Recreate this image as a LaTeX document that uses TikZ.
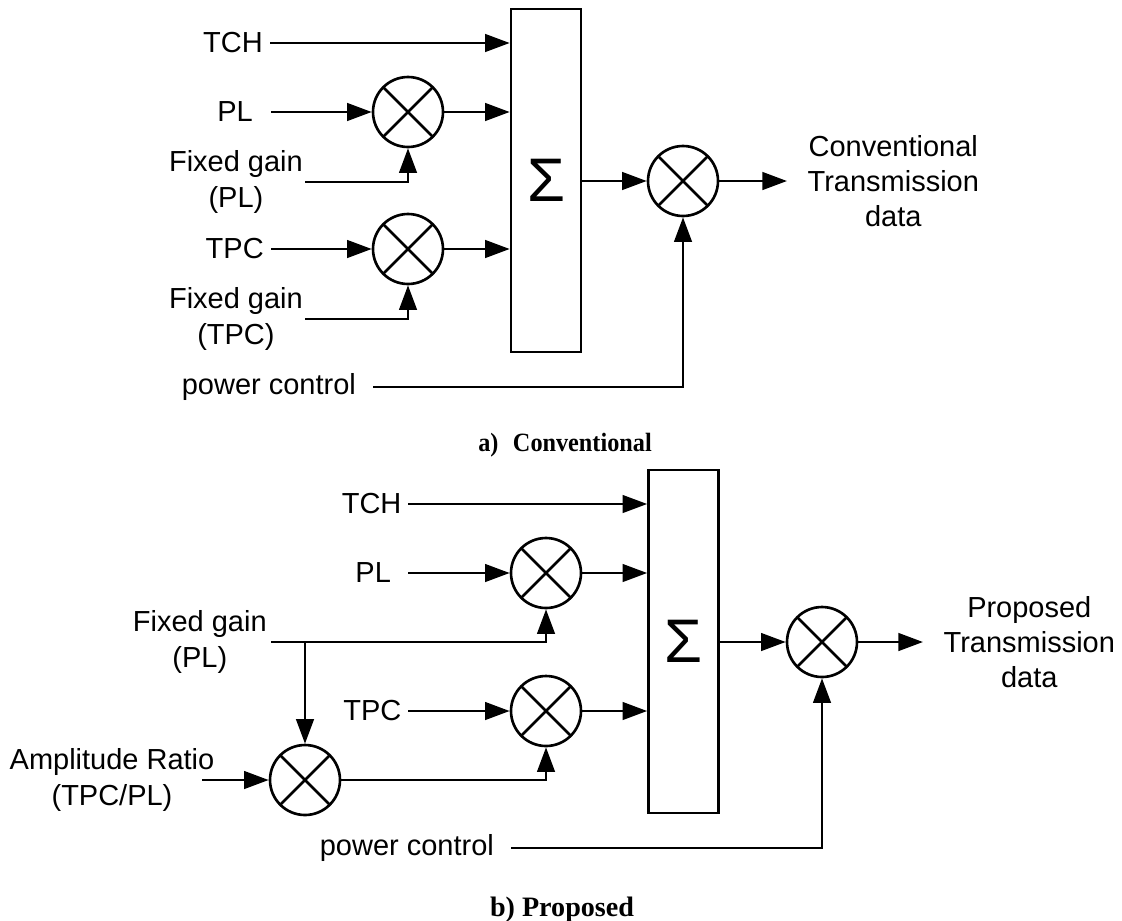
\documentclass[tikz,border=0pt]{standalone}
\usepackage{fontspec}
\usepackage{graphicx}
\setmainfont{Liberation Sans}
\newfontfamily\capfont{Liberation Serif}
\usetikzlibrary{arrows.meta}

\begin{document}
\begin{tikzpicture}[x=0.02cm,y=-0.02cm,line width=1.5pt,
  lbl/.style={font=\fontsize{16.5}{20}\selectfont,align=center,inner sep=0pt},
  mult/.style={draw,circle,minimum size=1.4cm,inner sep=0pt,
               path picture={\draw (path picture bounding box.north west)--(path picture bounding box.south east)
                             (path picture bounding box.north east)--(path picture bounding box.south west);}},
  sumbox/.style={draw,minimum width=1.4cm,minimum height=6.86cm,inner sep=0pt,
                 font=\fontsize{35}{35}\selectfont},
  capt/.style={anchor=base,inner sep=0pt,font=\capfont\bfseries\fontsize{16}{18}\selectfont},
  arr/.style={-{Triangle[length=14pt,width=10pt]}}]
\useasboundingbox (0,0) rectangle (1122,920);
\node[sumbox] (sumA) at (546,180.5) {Σ};
\node[mult] (mulA1) at (408,112) {};
\node[mult] (mulA2) at (408,249) {};
\node[mult] (mulA3) at (683,181) {};
\node[lbl,anchor=east,inner xsep=3.4pt] (tchA) at (270,43)  {TCH};
\node[lbl,anchor=east,inner xsep=9.6pt] (plA)  at (271,112) {PL};
\node[lbl,anchor=east,inner xsep=0.5pt] (fgA1) at (305,182) {Fixed gain\\(PL)};
\node[lbl,anchor=east,inner xsep=3.4pt] (tpcA) at (271,249) {TPC};
\node[lbl,anchor=east,inner xsep=0.5pt] (fgA2) at (305,319) {Fixed gain\\(TPC)};
\node[lbl,anchor=east,inner xsep=9pt]   (pcA)  at (373,387) {power control};
\node[lbl,anchor=west,inner xsep=11pt]  (outA) at (787,181) {Conventional\\Transmission\\data};
\node[capt] (capA) at (565,451) {\fontsize{15}{18}\selectfont\scalebox{0.92}[1]{a)\hspace{0.6em}Conventional}};
\draw[arr] (tchA.east) -- (tchA.east -| sumA.west);
\draw[arr] (plA.east) -- (mulA1); \draw[arr] (mulA1) -- (mulA1 -| sumA.west);
\draw[arr] (tpcA.east) -- (mulA2); \draw[arr] (mulA2) -- (mulA2 -| sumA.west);
\draw[arr] (fgA1.east) -| (mulA1.south);
\draw[arr] (fgA2.east) -| (mulA2.south);
\draw[arr] (sumA.east |- mulA3) -- (mulA3);
\draw[arr] (pcA.east) -| (mulA3.south);
\draw[arr] (mulA3) -- (outA.west);
\node[sumbox] (sumB) at (683.5,641.5) {Σ};
\node[mult] (mulB1) at (546,573) {};
\node[mult] (mulB2) at (546,711) {};
\node[mult] (mulB0) at (305,780) {};
\node[mult] (mulB3) at (822,642) {};
\node[lbl,anchor=east,inner xsep=3pt]   (tchB) at (408,504) {TCH};
\node[lbl,anchor=east,inner xsep=9pt]   (plB)  at (408,573) {PL};
\node[lbl,anchor=east,inner xsep=1.7pt] (fgB)  at (271,642) {Fixed gain\\(PL)};
\node[lbl,anchor=east,inner xsep=3pt]   (tpcB) at (408,711) {TPC};
\node[lbl] (arB) at (112,780) {Amplitude Ratio\\(TPC/PL)};
\coordinate (arin) at (202,780);
\node[lbl,anchor=east,inner xsep=9pt]   (pcB)  at (511,848) {power control};
\node[lbl,anchor=west,inner xsep=11pt]  (outB) at (923,642) {Proposed\\Transmission\\data};
\node[capt] (capB) at (562,916) {b) Proposed};
\draw[arr] (tchB.east) -- (tchB.east -| sumB.west);
\draw[arr] (plB.east) -- (mulB1); \draw[arr] (mulB1) -- (mulB1 -| sumB.west);
\draw[arr] (tpcB.east) -- (mulB2); \draw[arr] (mulB2) -- (mulB2 -| sumB.west);
\draw[arr] (fgB.east) -| (mulB1.south);
\draw[arr] (fgB.east -| mulB0) -- (mulB0);
\draw[arr] (arin) -- (mulB0);
\draw[arr] (mulB0) -| (mulB2.south);
\draw[arr] (sumB.east |- mulB3) -- (mulB3);
\draw[arr] (pcB.east) -| (mulB3.south);
\draw[arr] (mulB3) -- (outB.west);
\end{tikzpicture}
\end{document}
